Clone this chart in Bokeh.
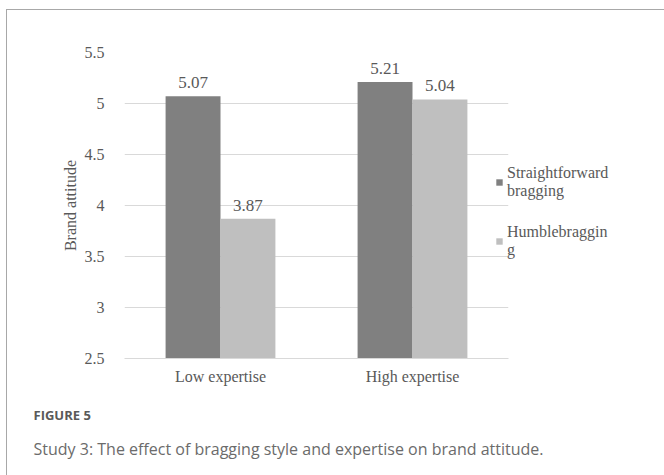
from bokeh.plotting import figure
from bokeh.models import (FixedTicker, Range1d, Legend, LegendItem, Title,
                          ColumnDataSource)
from bokeh.transform import dodge
from bokeh.embed import file_html
from bokeh.resources import INLINE

# Brand attitude by expertise and bragging style
groups = ["Low expertise", "High expertise"]
straightforward = [5.07, 5.21]
humblebragging = [3.87, 5.04]
series_names = ["Straightforward\nbragging", "Humblebraggin\ng"]
series_colors = ["#808080", "#bfbfbf"]
y_ticks = [2.5, 3.0, 3.5, 4.0, 4.5, 5.0, 5.5]
y_tick_labels = ["2.5", "3", "3.5", "4", "4.5", "5", "5.5"]

SERIF = "Liberation Serif"
TEXT = "#595959"

src = ColumnDataSource(dict(
    grp=groups,
    s1=straightforward,
    s2=humblebragging,
    l1=[f"{v:.2f}" for v in straightforward],
    l2=[f"{v:.2f}" for v in humblebragging],
))

p = figure(
    x_range=groups, y_range=Range1d(2.5, 5.5),
    frame_width=384, frame_height=306,
    min_border_left=117, min_border_right=156,
    min_border_top=42, min_border_bottom=117,
    output_backend="svg", toolbar_location=None,
    styles={"margin-left": "6px", "margin-top": "9px",
            "border-left": "1px solid #a8a8a8",
            "border-top": "1px solid #a8a8a8"},
)
p.outline_line_color = None
p.background_fill_color = "white"
p.border_fill_color = "white"

bw = 0.286
half = bw / 2
r1 = p.vbar(x=dodge("grp", -half, range=p.x_range), top="s1", bottom=2.5,
            width=bw, source=src, fill_color=series_colors[0], line_color=None)
r2 = p.vbar(x=dodge("grp", half, range=p.x_range), top="s2", bottom=2.5,
            width=bw, source=src, fill_color=series_colors[1], line_color=None)

# value labels above each bar
for col, lab, off in (("s1", "l1", -half), ("s2", "l2", half)):
    p.text(x=dodge("grp", off, range=p.x_range), y=col, text=lab, source=src,
           text_align="center", text_baseline="bottom", y_offset=-8,
           text_font=SERIF, text_font_size="17px", text_color=TEXT)

# axes
p.yaxis.ticker = FixedTicker(ticks=y_ticks)
p.yaxis.major_label_overrides = {t: s for t, s in zip(y_ticks, y_tick_labels)}
p.yaxis.axis_line_color = None
p.yaxis.major_tick_line_color = None
p.yaxis.minor_tick_line_color = None
p.yaxis.major_label_standoff = 14
p.yaxis.major_label_text_font = SERIF
p.yaxis.major_label_text_font_size = "16px"
p.yaxis.major_label_text_color = TEXT
p.yaxis.axis_label = "Brand attitude"
p.yaxis.axis_label_text_font = SERIF
p.yaxis.axis_label_text_font_style = "normal"
p.yaxis.axis_label_text_font_size = "16px"
p.yaxis.axis_label_text_color = TEXT
p.yaxis.axis_label_standoff = 3

p.xaxis.axis_line_color = "#d9d9d9"
p.xaxis.major_tick_line_color = None
p.xaxis.minor_tick_line_color = None
p.xaxis.major_label_standoff = 3
p.xaxis.major_label_text_font = SERIF
p.xaxis.major_label_text_font_size = "16px"
p.xaxis.major_label_text_color = TEXT

p.xgrid.grid_line_color = None
p.ygrid.grid_line_color = "#d9d9d9"
p.ygrid.grid_line_width = 1

# legend sits in the right-hand panel, nudged back over the plot edge
legend = Legend(
    items=[LegendItem(label=series_names[0], renderers=[r1]),
           LegendItem(label=series_names[1], renderers=[r2])],
    location=(-13, 99),
    padding=0, margin=0, spacing=23,
    glyph_width=8, glyph_height=8,
    label_text_font=SERIF, label_text_font_size="16px",
    label_text_line_height=1.35,
    label_text_color=TEXT, label_standoff=4,
    border_line_color=None, background_fill_alpha=0,
)
p.add_layout(legend, "right")

# figure caption underneath the chart
cap1 = Title(text="FIGURE 5", align="left", offset=-91, standoff=33,
             text_font="Open Sans", text_font_style="bold",
             text_font_size="13px", text_color="#595959")
cap2 = Title(text="Study 3: The effect of bragging style and expertise on brand attitude.",
             align="left", offset=-91, standoff=-9,
             text_font="Open Sans", text_font_style="normal",
             text_font_size="16px", text_color="#6b6b6b")
p.add_layout(cap1, "below")
p.add_layout(cap2, "below")

open("out.html", "w").write(file_html(p, INLINE))
